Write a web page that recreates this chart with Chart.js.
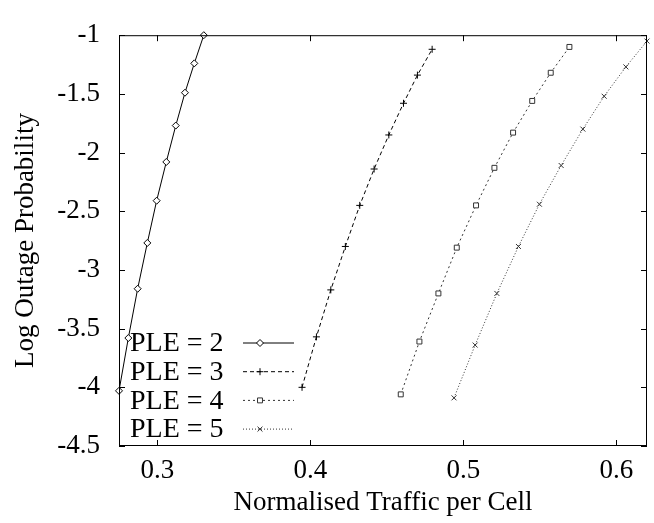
<!DOCTYPE html>
<html>
<head>
<meta charset="utf-8">
<script src="https://cdn.jsdelivr.net/npm/chart.js@4"></script>
<style>
    body { margin: 0; background: #fff; }
    canvas { display: block; }
</style>
</head>
<body>
<canvas id="myChart" width="654" height="523"></canvas>
<script>
// Data
const xTicks = [0.3, 0.4, 0.5, 0.6];
const yTicks = [-4.5, -4, -3.5, -3, -2.5, -2, -1.5, -1];
const seriesNames = ["PLE = 2", "PLE = 3", "PLE = 4", "PLE = 5"];

const ple2X = [0.275, 0.2811, 0.2872, 0.2935, 0.2996, 0.3059, 0.3121, 0.3181, 0.3242, 0.3304];
const ple2Y = [-4.03, -3.58, -3.16, -2.77, -2.41, -2.08, -1.77, -1.49, -1.24, -1.0];
const ple3X = [0.3946, 0.404, 0.4134, 0.4229, 0.4323, 0.4417, 0.4513, 0.4609, 0.47, 0.4796];
const ple3Y = [-4.0, -3.57, -3.17, -2.8, -2.45, -2.14, -1.85, -1.58, -1.34, -1.12];
const ple4X = [0.4591, 0.4713, 0.4837, 0.4957, 0.5083, 0.5203, 0.5325, 0.545, 0.5571, 0.5693];
const ple4Y = [-4.06, -3.61, -3.2, -2.81, -2.45, -2.13, -1.83, -1.56, -1.32, -1.1];
const ple5X = [0.4939, 0.5077, 0.5219, 0.536, 0.5497, 0.5639, 0.5781, 0.592, 0.6062, 0.62];
const ple5Y = [-4.09, -3.64, -3.2, -2.8, -2.44, -2.11, -1.8, -1.52, -1.27, -1.05];

const FONT = "'Liberation Serif', 'DejaVu Serif', serif";

function toPoints(xs, ys) {
    return xs.map((x, i) => ({ x: x, y: ys[i] }));
}

function makeSet(label, xs, ys, style, dash, color, radius) {
    return {
        label: label,
        data: toPoints(xs, ys),
        borderColor: color,
        borderWidth: 1,
        borderDash: dash,
        pointStyle: style,
        pointRadius: radius,
        pointBorderColor: color,
        pointBackgroundColor: "#fff",
        pointBorderWidth: 1,
        fill: false,
        tension: 0,
        clip: false,
    };
}

// Frame, inward ticks on all four sides and the legend box
const framePlugin = {
    id: "frame",
    afterDraw(chart) {
        const c = chart.ctx;
        const a = chart.chartArea;
        const xs = chart.scales.x;
        const ys = chart.scales.y;
        c.save();
        c.strokeStyle = "#000";
        c.lineWidth = 1;
        c.strokeRect(a.left + 0.5, a.top + 0.5, a.right - a.left - 1, a.bottom - a.top - 1);
        c.beginPath();
        xTicks.forEach((v) => {
            const px = Math.round(xs.getPixelForValue(v)) + 0.5;
            c.moveTo(px, a.bottom); c.lineTo(px, a.bottom - 6);
            c.moveTo(px, a.top); c.lineTo(px, a.top + 6);
        });
        yTicks.forEach((v) => {
            const py = Math.round(ys.getPixelForValue(v)) + 0.5;
            c.moveTo(a.left, py); c.lineTo(a.left + 6, py);
            c.moveTo(a.right, py); c.lineTo(a.right - 6, py);
        });
        c.stroke();

        // legend
        c.font = "28px " + FONT;
        c.fillStyle = "#000";
        c.textBaseline = "middle";
        chart.data.datasets.forEach((ds, i) => {
            const y = a.bottom - 103 + i * 28.7;
            c.fillText(ds.label, a.left + 11, y + 1);
            c.beginPath();
            c.strokeStyle = ds.borderColor;
            c.setLineDash(ds.borderDash);
            c.moveTo(a.left + 124, y);
            c.lineTo(a.left + 175, y);
            c.stroke();
            c.setLineDash([]);
            c.fillStyle = "#fff";
            Chart.helpers.drawPoint(c, {
                pointStyle: ds.pointStyle,
                radius: ds.pointRadius,
                borderWidth: 1,
                rotation: 0,
            }, a.left + 141, y);
            c.fillStyle = "#000";
        });
        c.restore();
    },
};

const ctx = document.getElementById("myChart").getContext("2d");
const myChart = new Chart(ctx, {
    type: "line",
    data: {
        datasets: [
            makeSet(seriesNames[0], ple2X, ple2Y, "rectRot", [], "#000", 3.5),
            makeSet(seriesNames[1], ple3X, ple3Y, "cross", [4, 3], "#000", 3.5),
            makeSet(seriesNames[2], ple4X, ple4Y, "rect", [2, 3], "#333", 3.5),
            makeSet(seriesNames[3], ple5X, ple5Y, "crossRot", [1, 2], "#333", 3.5),
        ],
    },
    options: {
        responsive: false,
        animation: false,
        layout: { padding: { top: 15, right: 7, left: 0, bottom: 0 } },
        plugins: {
            legend: { display: false },
            tooltip: { enabled: false },
        },
        scales: {
            x: {
                type: "linear",
                min: 0.275,
                max: 0.62,
                afterBuildTicks: (s) => { s.ticks = xTicks.map((v) => ({ value: v })); },
                afterFit: (s) => { s.height = 77; },
                grid: { display: false, drawTicks: false },
                border: { display: false },
                ticks: {
                    padding: 9,
                    color: "#000",
                    font: { family: FONT, size: 27 },
                    callback: (v) => String(v),
                },
                title: {
                    display: true,
                    text: "Normalised Traffic per Cell",
                    color: "#000",
                    font: { family: FONT, size: 27 },
                    padding: { top: 0, bottom: 4 },
                },
            },
            y: {
                type: "linear",
                min: -4.5,
                max: -1,
                afterBuildTicks: (s) => { s.ticks = yTicks.map((v) => ({ value: v })); },
                afterFit: (s) => { s.width = 119; },
                grid: { display: false, drawTicks: false },
                border: { display: false },
                ticks: {
                    padding: 19,
                    color: "#000",
                    font: { family: FONT, size: 27 },
                    callback: (v) => String(v),
                },
                title: {
                    display: true,
                    text: "Log Outage Probability",
                    color: "#000",
                    font: { family: FONT, size: 27 },
                    padding: { top: 10, bottom: 0 },
                },
            },
        },
    },
    plugins: [framePlugin],
});
</script>
</body>
</html>
